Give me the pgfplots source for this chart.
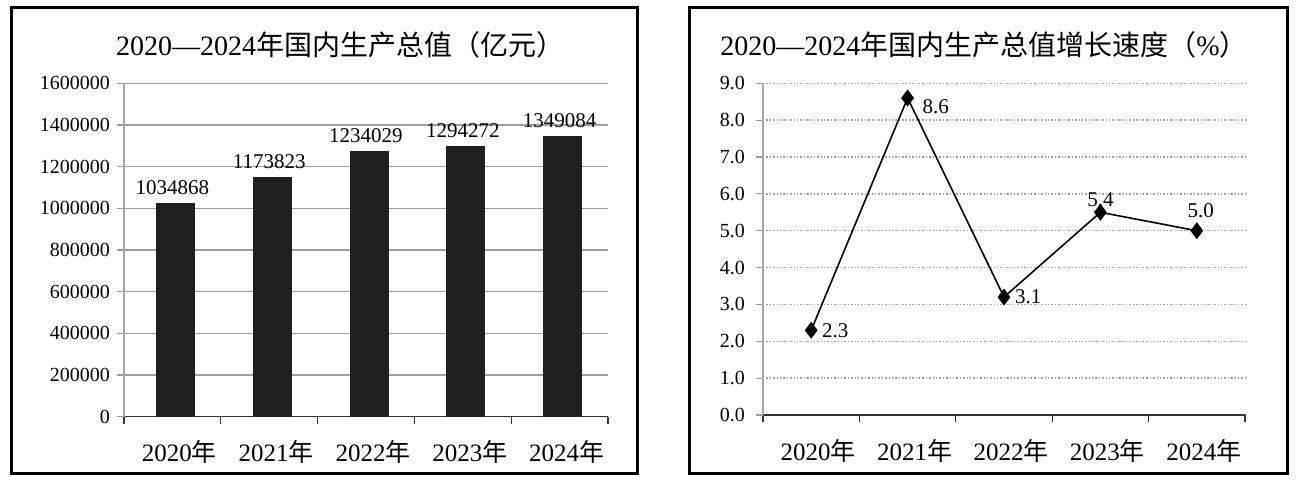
\documentclass[border=0pt]{standalone}
\usepackage{fontspec}
\setmainfont{Liberation Serif}
\newfontfamily\cjk{Noto Sans CJK SC}
\usepackage{pgfplots}
\pgfplotsset{compat=1.18}
\usepackage{pgfplotstable}

\pgfplotstableread{
x y label
0 1025000 1034868
1 1150000 1173823
2 1274000 1234029
3 1298000 1294272
4 1346000 1349084
}\gdp

\pgfplotstableread{
x y
0 2.3
1 8.6
2 3.2
3 5.5
4 5.0
}\growth

\newcommand{\nian}{{\cjk 年}}

\pgfplotsset{
  common/.style={
    scale only axis,
    anchor=south west,
    xmin=-0.5, xmax=4.5,
    xtick={-0.5,0.5,1.5,2.5,3.5,4.5},
    xticklabels={},
    extra x ticks={0,1,2,3,4},
    extra x tick labels={2020\nian,2021\nian,2022\nian,2023\nian,2024\nian},
    extra x tick style={tick style={draw=none}, xticklabel style={font=\fontsize{12.5bp}{14bp}\selectfont, yshift=-5bp, xshift=3.5bp}},
    axis x line*=bottom,
    axis y line*=left,
    axis line style={-},
    x axis line style={black!80, line width=0.7bp},
    y axis line style={gray!70, line width=0.6bp},
    tick align=outside,
    major tick length=3.5bp,
    x tick style={black!80, line width=0.6bp},
    y tick style={gray!80, line width=0.6bp},
    ymajorgrids,
    major grid style={gray!75, line width=0.7bp},
    yticklabel style={font=\fontsize{10bp}{12bp}\selectfont},
    /pgf/number format/assume math mode=true,
    clip=false,
  }
}

\begin{document}
\begin{tikzpicture}
\path[use as bounding box] (0bp,0bp) rectangle (654.5bp,242.5bp);
\draw[line width=1.5bp] (5.5bp,5.5bp) rectangle (318.5bp,238.5bp);
\draw[line width=1.5bp] (344.5bp,5.5bp) rectangle (643.5bp,238.5bp);
\node[font=\fontsize{14bp}{16bp}\selectfont] at (170bp,220bp) {2020—2024{\cjk 年国内生产总值（亿元）}};
\node[font=\fontsize{14bp}{16bp}\selectfont] at (492bp,220bp) {2020—2024{\cjk 年国内生产总值增长速度（}\%{\cjk ）}};

\begin{axis}[common,
  at={(62bp,34.15bp)}, width=242bp, height=166.7bp,
  ymin=0, ymax=1600000,
  ytick={0,200000,400000,600000,800000,1000000,1200000,1400000,1600000},
  scaled y ticks=false,
  yticklabel style={/pgf/number format/1000 sep={}, /pgf/number format/fixed},
]
\addplot[ybar, bar width=19bp, bar shift=1.5bp, fill=black!88, draw=black!88,
  nodes near coords, point meta=explicit symbolic,
  every node near coord/.append style={font=\fontsize{10.5bp}{12bp}\selectfont, text=black, yshift=0.5bp}]
  table[x=x, y=y, meta=label] {\gdp};
\end{axis}

\begin{axis}[common,
  at={(381.5bp,35bp)}, width=241bp, height=165.85bp,
  ymin=0, ymax=9,
  ytick={0,1,...,9},
  yticklabel style={/pgf/number format/fixed, /pgf/number format/fixed zerofill, /pgf/number format/precision=1, xshift=-2bp},
  major grid style={gray!75, line width=0.7bp, densely dotted},
]
\addplot[black, line width=0.8bp, mark=diamond*, mark size=3.6bp, mark options={solid, fill=black}]
  table[x=x, y=y] {\growth};
\addplot[draw=none, nodes near coords, point meta=explicit symbolic,
  every node near coord/.append style={anchor=west, font=\fontsize{10.5bp}{12bp}\selectfont, xshift=2bp}]
  coordinates {(0,2.3) [2.3] (2,3.2) [3.1]};
\addplot[draw=none, nodes near coords, point meta=explicit symbolic,
  every node near coord/.append style={anchor=west, font=\fontsize{10.5bp}{12bp}\selectfont, xshift=4bp, yshift=-4.5bp}]
  coordinates {(1,8.6) [8.6]};
\addplot[draw=none, nodes near coords, point meta=explicit symbolic,
  every node near coord/.append style={anchor=south, font=\fontsize{10.5bp}{12bp}\selectfont, yshift=-1bp}]
  coordinates {(3,5.5) [5.4]};
\addplot[draw=none, nodes near coords, point meta=explicit symbolic,
  every node near coord/.append style={anchor=south, font=\fontsize{10.5bp}{12bp}\selectfont, xshift=2bp, yshift=3bp}]
  coordinates {(4,5.0) [5.0]};
\end{axis}
\end{tikzpicture}
\end{document}
